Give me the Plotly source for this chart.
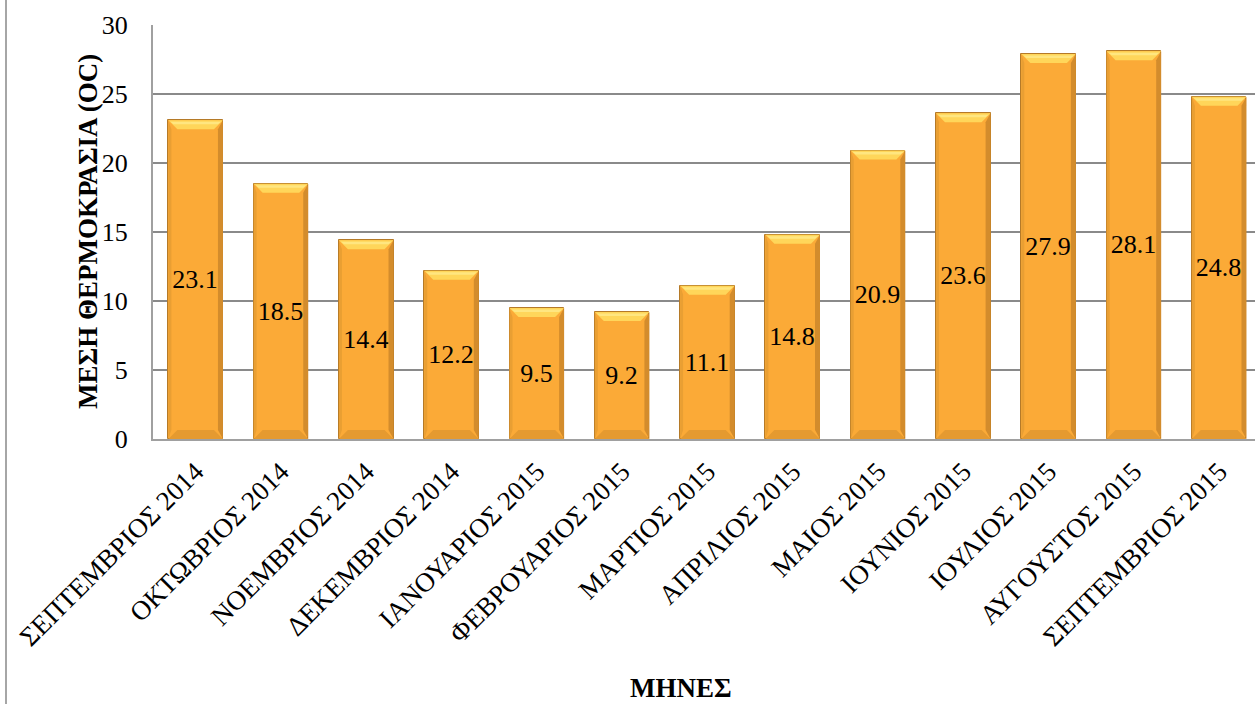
import plotly.graph_objects as go

# Monthly mean temperature, Sept 2014 - Sept 2015
months = [
    "ΣΕΠΤΕΜΒΡΙΟΣ 2014", "ΟΚΤΩΒΡΙΟΣ 2014", "ΝΟΕΜΒΡΙΟΣ 2014", "ΔΕΚΕΜΒΡΙΟΣ 2014",
    "ΙΑΝΟΥΑΡΙΟΣ 2015", "ΦΕΒΡΟΥΑΡΙΟΣ 2015", "ΜΑΡΤΙΟΣ 2015", "ΑΠΡΙΛΙΟΣ 2015",
    "ΜΑΙΟΣ 2015", "ΙΟΥΝΙΟΣ 2015", "ΙΟΥΛΙΟΣ 2015", "ΑΥΓΟΥΣΤΟΣ 2015", "ΣΕΠΤΕΜΒΡΙΟΣ 2015",
]
temps = [23.1, 18.5, 14.4, 12.2, 9.5, 9.2, 11.1, 14.8, 20.9, 23.6, 27.9, 28.1, 24.8]
y_ticks = [0, 5, 10, 15, 20, 25, 30]

FONT = "Liberation Serif"
BAR_W = 0.64
ORANGE = "#FBAA37"

W, H = 1255, 704
L, R, T, B = 153, 0, 25, 265
plot_w, plot_h = W - L - R, H - T - B
x_range = [-0.5, 12.42]
y_range = [0, 30]
px_x = (x_range[1] - x_range[0]) / plot_w   # category units per pixel
px_y = (y_range[1] - y_range[0]) / plot_h   # degrees per pixel

fig = go.Figure()
fig.add_trace(go.Bar(
    x=months, y=temps, width=BAR_W,
    marker=dict(color=ORANGE, line=dict(color="#B57A28", width=1)),
    texttemplate="%{y:.1f}", textposition="inside", insidetextanchor="middle",
    textangle=0, textfont=dict(family=FONT, size=26, color="black"),
    constraintext="none", cliponaxis=False,
))

# bevelled edges on each bar (top highlight, darker sides and bottom)
shapes = []
bev_x, bev_y = 9 * px_x, 9 * px_y
for i, v in enumerate(temps):
    x0, x1 = i - BAR_W / 2, i + BAR_W / 2
    top = (f"M {x0},{v} L {x1},{v} L {x1 - bev_x},{v - bev_y} "
           f"L {x0 + bev_x},{v - bev_y} Z")
    shapes.append(dict(type="path", path=top, xref="x", yref="y", layer="above",
                       fillcolor="#FFD65A", line=dict(width=0)))
    hi = (f"M {x0 + 2 * px_x},{v - 1.5 * px_y} L {x1 - 2 * px_x},{v - 1.5 * px_y} "
          f"L {x1 - 5 * px_x},{v - 4 * px_y} L {x0 + 5 * px_x},{v - 4 * px_y} Z")
    shapes.append(dict(type="path", path=hi, xref="x", yref="y", layer="above",
                       fillcolor="#FFE680", line=dict(width=0)))
    bot = (f"M {x0},0 L {x1},0 L {x1 - bev_x},{bev_y} L {x0 + bev_x},{bev_y} Z")
    shapes.append(dict(type="path", path=bot, xref="x", yref="y", layer="above",
                       fillcolor="#E59A30", line=dict(width=0)))
    rgt = (f"M {x1},0 L {x1},{v} L {x1 - 5 * px_x},{v - bev_y} "
           f"L {x1 - 5 * px_x},{bev_y} Z")
    shapes.append(dict(type="path", path=rgt, xref="x", yref="y", layer="above",
                       fillcolor="#D38C2C", line=dict(width=0)))
    lft = (f"M {x0},0 L {x0},{v} L {x0 + 3 * px_x},{v - bev_y} "
           f"L {x0 + 3 * px_x},{bev_y} Z")
    shapes.append(dict(type="path", path=lft, xref="x", yref="y", layer="above",
                       fillcolor="#E99F33", line=dict(width=0)))

# outer chart frame edge on the left
shapes.append(dict(type="line", xref="paper", yref="paper",
                   x0=(6 - L) / plot_w, x1=(6 - L) / plot_w,
                   y0=-(B + 5) / plot_h, y1=1 + (T + 5) / plot_h,
                   line=dict(color="#A6A6A6", width=2)))

fig.update_layout(
    width=W, height=H,
    margin=dict(l=L, r=R, t=T, b=B, pad=0),
    paper_bgcolor="white", plot_bgcolor="white",
    showlegend=False, bargap=0,
    font=dict(family=FONT, color="black"),
    shapes=shapes,
    annotations=[
        dict(text="<b>ΜΕΣΗ ΘΕΡΜΟΚΡΑΣΙΑ (OC)</b>", textangle=-90,
             xref="paper", yref="paper", x=(88 - L) / plot_w, y=0.5,
             xanchor="center", yanchor="middle", showarrow=False,
             font=dict(family=FONT, size=27, color="black")),
        dict(text="<b>ΜΗΝΕΣ</b>", xref="paper", yref="paper",
             x=(681 - L) / plot_w, y=-(688 - T - plot_h) / plot_h,
             xanchor="center", yanchor="middle", showarrow=False,
             font=dict(family=FONT, size=27, color="black")),
    ],
)
fig.update_xaxes(
    range=x_range, tickangle=-45, showgrid=False,
    tickfont=dict(family=FONT, size=27, color="black"),
    showline=True, linecolor="#A0A0A0", linewidth=2,
    ticks="", ticklabelstandoff=4,
)
fig.update_yaxes(
    range=y_range, tickvals=y_ticks, showgrid=True,
    gridcolor="#8A8A8A", gridwidth=2,
    tickfont=dict(family=FONT, size=26, color="black"),
    showline=True, linecolor="#A0A0A0", linewidth=2,
    ticks="", ticklabelstandoff=18, zeroline=False,
)

fig.write_html("out.html")
